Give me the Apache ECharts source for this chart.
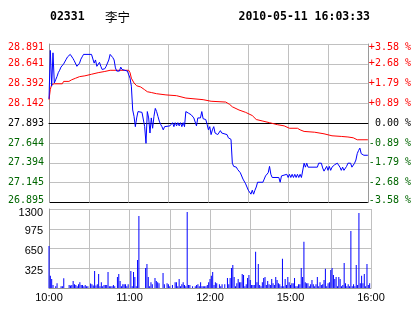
<!DOCTYPE html>
<html><head><meta charset="utf-8">
<script src="https://cdn.jsdelivr.net/npm/echarts@6/dist/echarts.min.js"></script>
<style>html,body{margin:0;padding:0;background:#fff;}#c{width:414px;height:314px;}</style>
</head><body><div id="c"></div>
<script>
const stockCode = '02331';
const stockName = '李宁';
const stamp = '2010-05-11 16:03:33';
const prevClose = 27.893;
const priceStep = 0.2495;
const leftLabels = ['28.891','28.641','28.392','28.142','27.893','27.644','27.394','27.145','26.895'];
const rightLabels = ['+3.58 %','+2.68 %','+1.79 %','+0.89 %',' 0.00 %','-0.89 %','-1.79 %','-2.68 %','-3.58 %'];
const timeLabels = ['10:00','','11:00','','12:00','','15:00','','16:00'];
const volTicks = ['','325','650','975','1300'];

const priceMinutes = [0,1,2,3,4,5,6,7,8,9,10,11,12,13,14,15,16,17,18,19,20,21,22,23,24,25,26,32,33,34,35,36,37,38,39,40,41,42,43,44,45,46,47,48,49,50,51,52,53,54,55,57,59,
60,61,62,63,64,65,66,67,68,70,71,72,73,74,75,76,77,78,79,80,81,82,83,84,85,86,87,88,91,92,93,94,95,96,97,98,99,100,101,102,103,104,105,106,107,108,109,110,111,112,113,114,115,116,117,118,119,
120,121,122,123,124,125,126,127,128,129,130,131,134,135,136,137,138,139,140,141,142,143,144,145,146,147,148,149,150,151,152,153,154,155,156,157,161,162,163,164,165,166,167,168,173,174,175,176,179,
180,181,182,183,184,185,186,187,188,189,190,191,192,193,194,195,202,203,204,205,206,207,208,209,210,211,212,213,214,215,216,217,218,219,220,221,222,223,224,225,226,227,228,229,230,231,232,233,234,235,236,237,240];
const prices = [28.20,28.81,28.36,28.78,28.40,28.44,28.48,28.53,28.56,28.60,28.61,28.64,28.65,28.70,28.73,28.73,28.76,28.74,28.71,28.68,28.67,28.61,28.61,28.65,28.70,28.73,28.76,28.76,28.74,28.65,28.69,28.61,28.63,28.66,28.61,28.57,28.55,28.58,28.61,28.62,28.69,28.76,28.76,28.72,28.69,28.59,28.55,28.56,28.55,28.60,28.57,28.56,28.55,
28.53,28.46,28.36,28.06,27.98,27.85,27.96,28.04,28.03,28.03,28.02,27.85,27.64,28.04,27.96,27.77,27.96,27.83,27.98,28.08,28.04,27.98,27.92,27.88,27.85,27.81,27.85,27.86,27.86,27.88,27.90,27.85,27.90,27.86,27.90,27.86,27.90,27.85,27.90,27.85,28.04,28.04,28.02,28.00,28.00,27.98,27.96,27.95,27.86,27.96,27.94,27.96,28.04,27.95,27.94,27.94,27.88,
27.81,27.85,27.75,27.81,27.85,27.77,27.79,27.75,27.77,27.80,27.77,27.75,27.75,27.71,27.69,27.69,27.39,27.35,27.34,27.34,27.31,27.29,27.27,27.25,27.19,27.17,27.13,27.11,27.05,27.07,27.00,27.05,27.00,27.05,27.09,27.15,27.15,27.19,27.23,27.25,27.27,27.35,27.25,27.21,27.21,27.15,27.23,27.25,27.25,
27.21,27.25,27.21,27.25,27.21,27.25,27.21,27.25,27.21,27.25,27.21,27.21,27.39,27.34,27.39,27.34,27.34,27.39,27.37,27.39,27.33,27.29,27.29,27.35,27.30,27.35,27.30,27.34,27.34,27.37,27.39,27.39,27.37,27.34,27.30,27.34,27.30,27.30,27.35,27.39,27.37,27.39,27.34,27.34,27.39,27.43,27.51,27.55,27.58,27.51,27.53,27.49,27.49];

const avgMinutes = [0,1,2,4,10,11,15,17,20,23,27,32,37,42,46,60,61,62,64,66,69,72,74,77,81,88,96,103,116,122,133,136,138,143,148,153,156,161,166,172,177,181,187,189,192,200,207,213,220,225,229,232,240];
const avgPrices = [28.19,28.32,28.38,28.39,28.39,28.42,28.42,28.44,28.46,28.48,28.49,28.51,28.53,28.545,28.56,28.56,28.53,28.46,28.40,28.365,28.35,28.315,28.29,28.28,28.265,28.25,28.24,28.21,28.19,28.17,28.16,28.13,28.10,28.06,28.03,27.99,27.94,27.92,27.90,27.875,27.86,27.83,27.83,27.81,27.79,27.78,27.76,27.735,27.727,27.72,27.71,27.685,27.685];

const volMinutes = [0,1,2,3,5,6,9,10,11,15,16,17,18,19,20,21,22,23,24,25,26,27,28,29,31,32,33,34,35,36,37,38,39,40,41,42,43,44,45,46,47,48,49,51,52,53,54,55,56,57,58,59,61,62,63,64,65,66,67,72,73,74,75,76,77,79,80,81,82,85,86,88,89,90,92,94,95,96,97,98,99,100,101,102,103,104,105,107,109,110,111,112,113,114,115,116,117,118,119,120,
121,122,123,124,125,127,128,129,131,133,134,135,136,137,138,139,140,141,142,143,144,145,146,147,148,149,150,151,152,153,154,155,156,157,158,159,160,161,162,163,164,165,166,167,168,169,170,171,172,173,174,175,176,177,178,179,180,181,182,183,184,185,186,187,188,189,190,191,192,193,194,195,196,197,198,199,200,201,202,203,204,205,206,207,208,209,210,211,212,213,214,215,216,217,218,219,220,221,222,223,224,225,226,227,228,229,230,231,232,233,234,235,236,237,238,239,240];
const volumes = [690,200,150,50,30,80,30,30,160,50,40,50,115,60,50,30,60,95,50,50,30,50,30,30,75,60,40,280,40,60,230,30,95,30,50,50,50,265,30,30,30,50,30,180,230,115,30,60,60,60,30,60,280,30,265,180,30,460,1185,330,395,180,30,95,60,165,115,95,77,245,60,77,60,30,50,95,95,30,150,30,60,95,50,30,1250,50,50,30,30,50,60,30,95,30,30,30,30,50,95,
150,200,265,50,95,77,60,30,60,60,165,60,165,330,380,180,30,77,150,95,95,230,215,30,60,165,215,130,50,50,50,595,95,395,50,30,95,165,180,50,115,60,50,150,77,50,180,130,77,60,30,480,30,150,50,180,95,50,77,77,165,30,30,60,60,330,180,760,95,77,77,30,60,130,60,30,60,180,30,95,50,60,130,315,30,77,95,295,330,215,150,180,30,180,150,30,50,410,77,30,60,30,940,30,60,30,380,50,1235,77,200,77,230,30,395,50,77];

const RED = '#ff0000', GREEN = '#006600', GRID = '#c0c0c0', FRAME = '#9a9a9a';
const toStep = p => (p - prevClose) / priceStep;
const labelColor = v => (v > 0.01 ? RED : (v < -0.01 ? GREEN : '#000'));
const mono = 'DejaVu Sans Mono';
const priceRich = {
  n: {fontFamily: mono, fontSize: 10},
  t: {fontFamily: mono, fontSize: 10, padding: [6, 0, 0, 0]},
  b: {fontFamily: mono, fontSize: 10, padding: [0, 0, 4, 0]}
};
const priceFmt = (labels) => (v) => {
  const k = 4 - Math.round(v);
  const key = k === 0 ? 't' : (k === 8 ? 'b' : 'n');
  return '{' + key + '|' + labels[k] + '}';
};

const chart = echarts.init(document.getElementById('c'), null, {renderer: 'canvas'});
chart.setOption({
  animation: false,
  backgroundColor: '#fff',
  graphic: [
    {type: 'text', x: 50, y: 17, style: {text: stockCode, font: 'bold 11.5px "DejaVu Sans Mono"', fill: '#000', verticalAlign: 'middle', textVerticalAlign: 'middle'}},
    {type: 'text', x: 105, y: 17, style: {text: stockName, font: '12.5px "Noto Sans CJK SC"', fill: '#000', verticalAlign: 'middle', textVerticalAlign: 'middle'}},
    {type: 'text', x: 370, y: 17, style: {text: stamp, font: 'bold 11.5px "DejaVu Sans Mono"', fill: '#000', align: 'right', textAlign: 'right', verticalAlign: 'middle', textVerticalAlign: 'middle'}}
  ],
  grid: [
    {left: 49, right: 43, top: 44, height: 158.5},
    {left: 49, right: 43, top: 209, height: 79}
  ],
  xAxis: [
    {gridIndex: 0, type: 'value', min: 0, max: 240, interval: 30,
     axisLine: {show: true, lineStyle: {color: '#000', width: 1}}, axisTick: {show: false}, axisLabel: {show: false},
     splitLine: {show: true, lineStyle: {color: GRID, width: 1}}},
    {gridIndex: 1, type: 'value', min: 0, max: 240, interval: 30,
     axisLine: {show: true, lineStyle: {color: FRAME, width: 1}}, axisTick: {show: false},
     splitLine: {show: true, lineStyle: {color: GRID, width: 1}},
     axisLabel: {show: true, margin: 4, showMinLabel: true, showMaxLabel: true, hideOverlap: false,
       fontFamily: 'Liberation Sans', fontSize: 11, color: '#000',
       formatter: v => timeLabels[Math.round(v / 30)] || ''}}
  ],
  yAxis: [
    {gridIndex: 0, type: 'value', min: -4, max: 4, interval: 1, position: 'left',
     axisLine: {show: true, lineStyle: {color: FRAME}}, axisTick: {show: false},
     splitLine: {show: true, lineStyle: {width: 1, color: ['#000', GRID, GRID, GRID, '#000', GRID, GRID, GRID, GRID]}},
     axisLabel: {margin: 5, fontFamily: mono, fontSize: 10, showMinLabel: true, showMaxLabel: true,
       color: v => labelColor(v), rich: priceRich,
       formatter: priceFmt(leftLabels)}},
    {gridIndex: 0, type: 'value', min: -4, max: 4, interval: 1, position: 'right',
     axisLine: {show: true, lineStyle: {color: FRAME}}, axisTick: {show: false}, splitLine: {show: false},
     axisLabel: {margin: 1, fontFamily: mono, fontSize: 10, showMinLabel: true, showMaxLabel: true,
       color: v => labelColor(v), rich: priceRich,
       formatter: priceFmt(rightLabels)}},
    {gridIndex: 1, type: 'value', min: 0, max: 1300, interval: 325, position: 'left',
     axisLine: {show: true, lineStyle: {color: FRAME}}, axisTick: {show: false},
     splitLine: {show: true, lineStyle: {color: GRID, width: 1}},
     axisLabel: {margin: 6, fontFamily: 'Liberation Sans', fontSize: 11, color: '#000', showMaxLabel: true,
       rich: {
         n: {fontFamily: 'Liberation Sans', fontSize: 11, padding: [5, 0, 0, 0]},
         t: {fontFamily: 'Liberation Sans', fontSize: 11, padding: [8, 0, 0, 0]}
       },
       formatter: v => {
         const k = Math.round(v / 325);
         if (!volTicks[k]) return '';
         return '{' + (k === 4 ? 't' : 'n') + '|' + volTicks[k] + '}';
       }}}
  ],
  series: [
    {type: 'line', xAxisIndex: 0, yAxisIndex: 0, showSymbol: false, silent: true,
     lineStyle: {color: RED, width: 1}, z: 3,
     data: avgMinutes.map((m, i) => [m, toStep(avgPrices[i])])},
    {type: 'line', xAxisIndex: 0, yAxisIndex: 0, showSymbol: false, silent: true,
     lineStyle: {color: '#0000ff', width: 1}, z: 4,
     data: priceMinutes.map((m, i) => [m, toStep(prices[i])])},
    {type: 'bar', xAxisIndex: 1, yAxisIndex: 2, barWidth: 1, silent: true,
     itemStyle: {color: '#0000ff'},
     data: volMinutes.map((m, i) => [m, volumes[i]])}
  ]
});
</script></body></html>
